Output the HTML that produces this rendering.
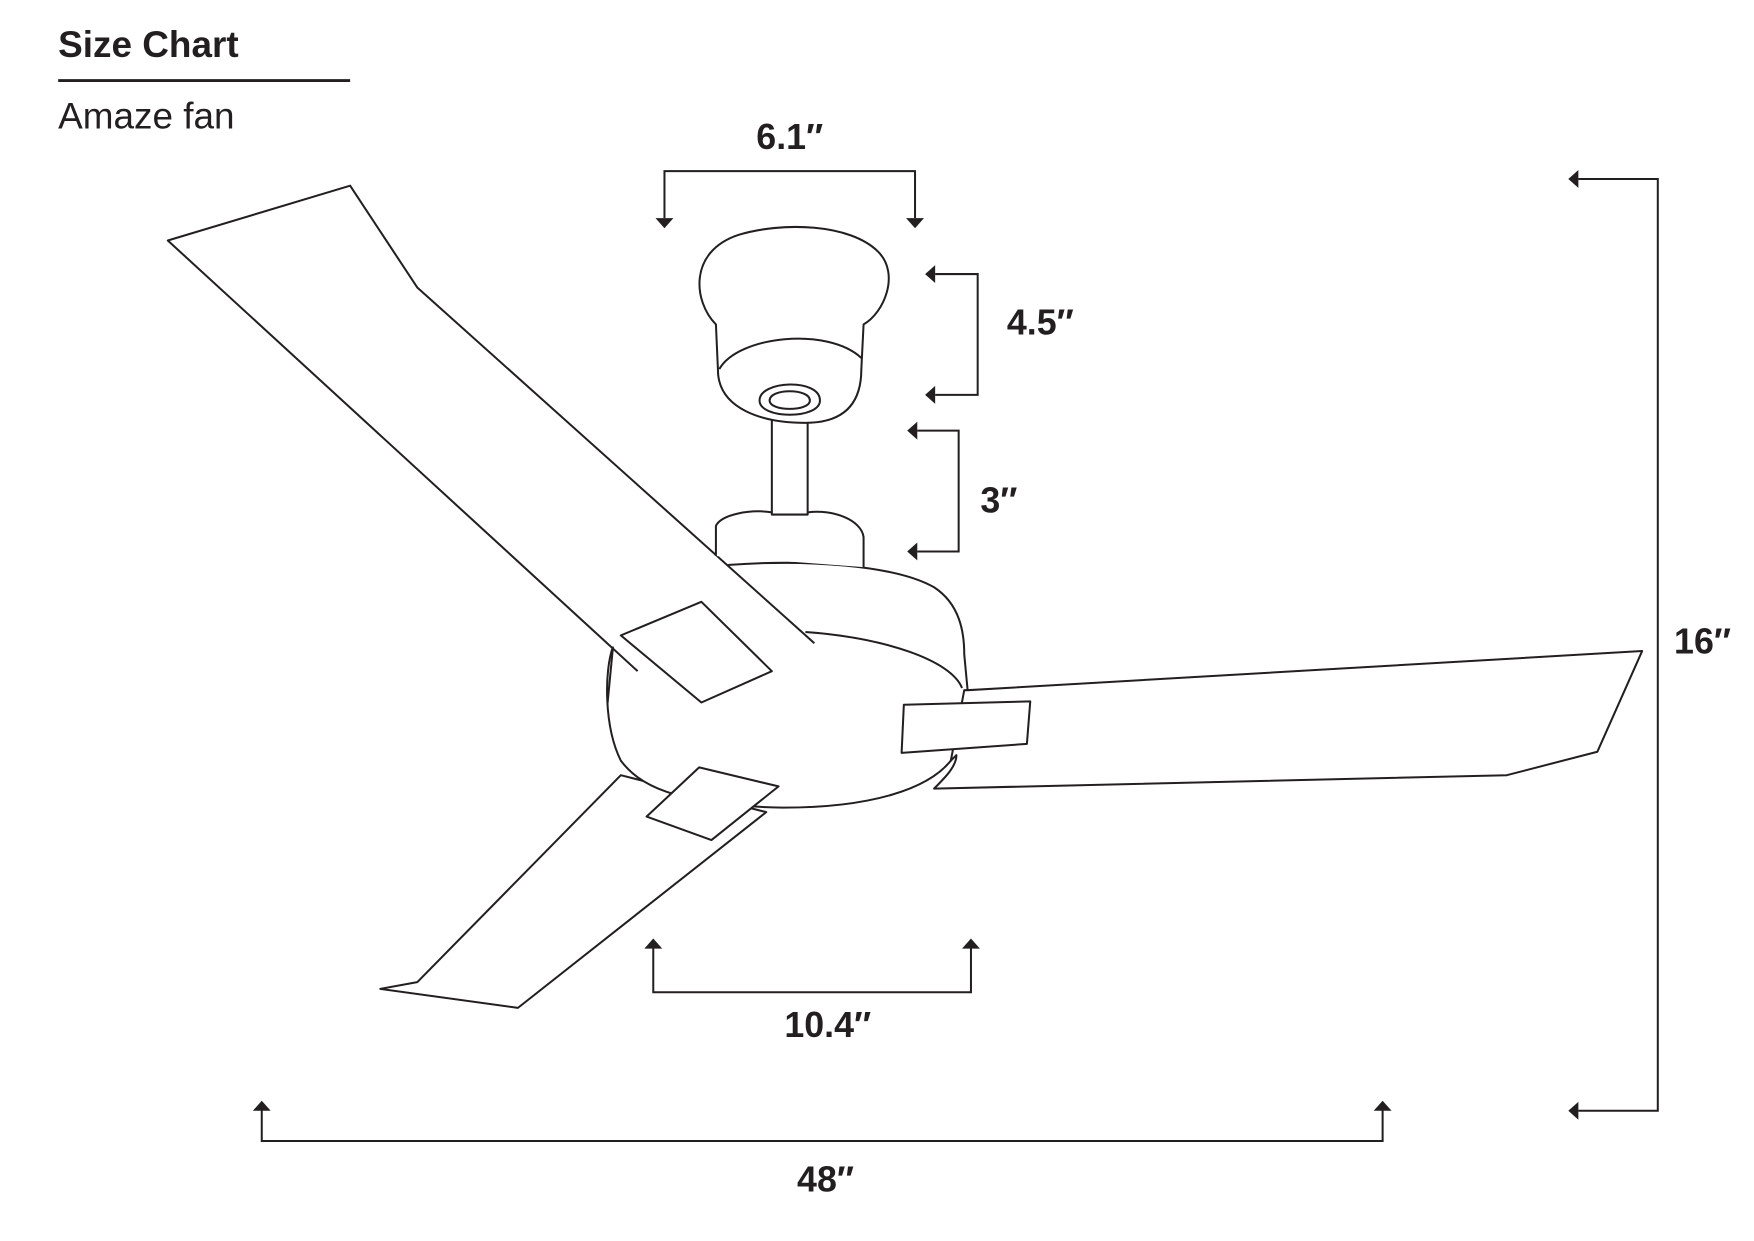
<!DOCTYPE html>
<html><head><meta charset="utf-8"><style>
html,body{margin:0;padding:0;background:#fff;}
svg{display:block;}
text{font-family:"Liberation Sans",sans-serif;fill:#231f20;}
</style></head><body>
<svg width="1754" height="1241" viewBox="0 0 1568 1109.4" preserveAspectRatio="none" xmlns="http://www.w3.org/2000/svg">
<text x="52" y="51" font-size="33" font-weight="bold">Size Chart</text>
<line x1="52" y1="72" x2="313" y2="72" stroke="#231f20" stroke-width="2.5"/>
<text x="52" y="115" font-size="33">Amaze fan</text>

<g fill="#fff" stroke="#231f20" stroke-width="1.8" stroke-linejoin="round">
<!-- blade 3 -->
<path d="M555,693 L373,878 L340,884 L463,901 L685,726 Z"/>
<!-- motor body -->
<path d="M652,505 C720,500 800,505 835,525 C858,540 862,565 862,585 L865,617 L850,680 C830,705 780,722 700,722 C600,720 570,700 555,680 C540,650 540,600 548,578 L600,520 Z"/>
<path d="M720,565 C790,570 850,590 860,615" fill="none"/>
<!-- blade 2 -->
<path d="M865,617 L1468,582 L1428,672 L1347,693 L835,705 C845,695 855,685 855,675 L850,680 L862,617 Z"/>
<!-- blade 1 -->
<path d="M150,215 L313,166 L373,257 L728,575 L570,600 Z" stroke="none"/>
<path d="M570,600 L150,215 L313,166 L373,257 L728,575" fill="none"/>
<path d="M548,578 L543,630" fill="none"/>
<!-- brackets -->
<path d="M555,568 L627,538 L690,600 L627,628 Z"/>
<path d="M808,630 L921,627 L918,665 L806,673 Z"/>
<path d="M578,730 L625,686 L696,703 L636,751 Z"/>
<!-- motor top cap -->
<path d="M640,497 L640,470 C645,460 670,455 690,458 L722,458 C745,455 770,465 772,480 L772,507"/>
<!-- downrod -->
<path d="M690,370 L690,460 L722,460 L722,370 Z"/>
<!-- canopy -->
<path d="M640,290 C620,270 615,225 660,210 C700,198 760,200 785,225 C805,245 790,280 772,290 L770,330 C770,355 760,378 720,378 C680,378 645,365 642,335 Z"/>
<path d="M643,330 C660,300 740,292 770,320" fill="none"/>
<path d="M679,358 C679,340 733,338 733,358 C733,375 679,375 679,358 Z"/>
<path d="M688,358 C688,347 724,347 724,358 C724,368 688,368 688,358 Z"/>
</g>

<g fill="none" stroke="#231f20" stroke-width="1.8">
<path d="M594,195 L594,153 L818,153 L818,195"/>
<path d="M836,245 L874,245 L874,353 L836,353"/>
<path d="M820,385 L857,385 L857,493 L820,493"/>
<path d="M1411,160 L1482,160 L1482,993 L1411,993"/>
<path d="M584,840 L584,887 L868,887 L868,840"/>
<path d="M234,985 L234,1020 L1236,1020 L1236,985"/>
</g>
<g fill="#231f20">
<path d="M586,195 L602,195 L594,204 Z"/><path d="M810,195 L826,195 L818,204 Z"/>
<path d="M836,237 L836,253 L827,245 Z"/><path d="M836,345 L836,361 L827,353 Z"/>
<path d="M820,377 L820,393 L811,385 Z"/><path d="M820,485 L820,501 L811,493 Z"/>
<path d="M1411,152 L1411,168 L1402,160 Z"/><path d="M1411,985 L1411,1001 L1402,993 Z"/>
<path d="M576,848 L592,848 L584,839 Z"/><path d="M860,848 L876,848 L868,839 Z"/>
<path d="M226,993 L242,993 L234,984 Z"/><path d="M1228,993 L1244,993 L1236,984 Z"/>
</g>

<g font-size="32" font-weight="bold" text-anchor="middle">
<text x="706" y="133">6.1″</text>
<text x="930" y="299">4.5″</text>
<text x="893" y="458">3″</text>
<text x="1522" y="584">16″</text>
<text x="740" y="927">10.4″</text>
<text x="738" y="1065">48″</text>
</g>
</svg>
</body></html>
